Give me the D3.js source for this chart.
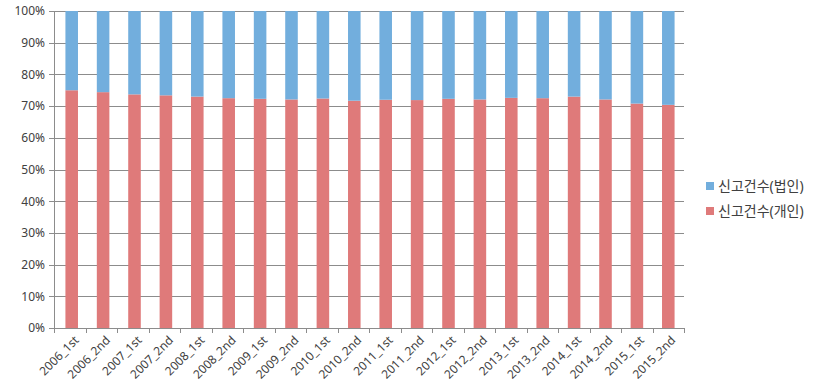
<!DOCTYPE html>
<html>
<head>
<meta charset="utf-8">
<script src="https://cdn.jsdelivr.net/npm/d3@7/dist/d3.min.js"></script>
<style>
body { margin: 0; background: white; }
text { font-family: "Noto Sans", "Noto Sans CJK KR", sans-serif; fill: #404040; }
.axis path, .axis line { stroke: #8c8c8c; shape-rendering: crispEdges; }
.grid line { stroke: #8c8c8c; shape-rendering: crispEdges; }
</style>
</head>
<body>
<script>
const periods = ["2006_1st","2006_2nd","2007_1st","2007_2nd","2008_1st","2008_2nd","2009_1st","2009_2nd",
  "2010_1st","2010_2nd","2011_1st","2011_2nd","2012_1st","2012_2nd","2013_1st","2013_2nd",
  "2014_1st","2014_2nd","2015_1st","2015_2nd"];
// share of reports by individuals (%), rest is corporations
const individual = [75.0,74.4,73.7,73.4,73.0,72.5,72.3,72.1,72.4,71.7,72.0,71.9,72.3,72.1,72.6,72.5,73.0,72.1,70.8,70.4];
const seriesNames = ["신고건수(법인)", "신고건수(개인)"];
const seriesColors = ["#72aedd", "#df7a7a"];
const yTicks = [0,10,20,30,40,50,60,70,80,90,100];

const W = 825, H = 392;
const svg = d3.select("body").append("svg").attr("width", W).attr("height", H);
const margin = {left: 54, top: 11, right: 141, bottom: 64};
const width = W - margin.left - margin.right;
const height = H - margin.top - margin.bottom;
const g = svg.append("g").attr("transform", `translate(${margin.left},${margin.top})`);

const x = d3.scaleBand().domain(periods).range([2, width]).paddingInner(0.6).paddingOuter(0.3);
const y = d3.scaleLinear().domain([0, 100]).range([height, 0]);

g.append("g").attr("class", "grid")
  .selectAll("line").data(yTicks.slice(1)).join("line")
  .attr("x1", 0).attr("x2", width)
  .attr("y1", d => Math.round(y(d)) + 0.5).attr("y2", d => Math.round(y(d)) + 0.5);

const rows = periods.map((p, i) => ({p, ind: individual[i], corp: 100 - individual[i]}));

// individual (bottom)
g.selectAll("rect.ind").data(rows).join("rect").attr("class", "ind")
  .attr("x", d => x(d.p)).attr("width", x.bandwidth())
  .attr("y", d => y(d.ind)).attr("height", d => y(0) - y(d.ind))
  .attr("fill", seriesColors[1]);
// corporate (top)
g.selectAll("rect.corp").data(rows).join("rect").attr("class", "corp")
  .attr("x", d => x(d.p)).attr("width", x.bandwidth())
  .attr("y", y(100)).attr("height", d => y(d.ind) - y(100))
  .attr("fill", seriesColors[0]);

const yAxis = d3.axisLeft(y).tickValues(yTicks).tickFormat(d => d + "%").tickSize(5).tickPadding(4);
g.append("g").attr("class", "axis").call(yAxis)
  .call(a => a.select(".domain").attr("d", `M0.5,0V${height}`))
  .selectAll("text").style("font-size", "12px");

// x axis with ticks between categories
const xa = g.append("g").attr("class", "axis").attr("transform", `translate(0,${height})`);
xa.append("line").attr("x1", 0).attr("x2", width).attr("y1", 0.5).attr("y2", 0.5);
xa.selectAll("line.tk").data(d3.range(periods.length + 1)).join("line").attr("class", "tk")
  .attr("x1", i => Math.round(i * width / periods.length) + 0.5)
  .attr("x2", i => Math.round(i * width / periods.length) + 0.5)
  .attr("y1", 0).attr("y2", 5);
xa.selectAll("text").data(periods).join("text")
  .attr("transform", d => `translate(${x(d) + x.bandwidth() / 2 + 5},${10}) rotate(-45)`)
  .attr("text-anchor", "end").attr("dy", "0.35em")
  .style("font-size", "12px").text(d => d);

// legend
const lg = svg.append("g").attr("transform", "translate(706,186)");
seriesNames.forEach((n, i) => {
  const r = lg.append("g").attr("transform", `translate(0,${i * 25})`);
  r.append("rect").attr("x", 0).attr("y", -4).attr("width", 8).attr("height", 8).attr("fill", seriesColors[i]);
  r.append("text").attr("x", 12).attr("y", 0).attr("dy", "0.35em").style("font-size", "14px").text(n);
});
</script>
</body>
</html>
